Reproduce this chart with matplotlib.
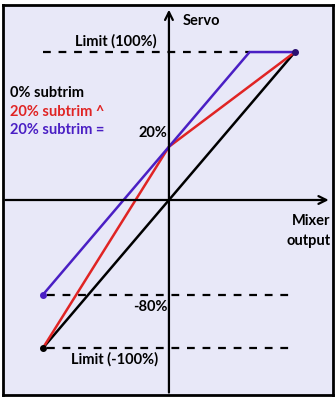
import matplotlib.pyplot as plt
import matplotlib

plt.rcParams['font.family'] = ['Lato', 'DejaVu Sans']

# schematic units: limit = 100, the "20%" trim sits at 36 on the drawn scale
x_black = [-100, 100]
y_black = [-100, 100]
x_red = [-100, 0, 100]
y_red = [-100, 36, 100]
x_blue = [-100, 0, 64, 100]
y_blue = [-64, 36, 100, 100]

limit_hi = 100
limit_lo = -100
low_blue = -64
trim_level = 36

legend_labels = ["0% subtrim", "20% subtrim ^", "20% subtrim ="]
legend_colors = ["black", "#e02424", "#4a1fc4"]

fig = plt.figure(figsize=(3.36, 3.99), dpi=100)
ax = fig.add_axes([3 / 336, 4 / 399, 330 / 336, 390 / 399])
ax.set_facecolor("#e8e8f8")
ax.set_xlim(-131.7, 130.2)
ax.set_ylim(-131.8, 131.8)
ax.set_xticks([])
ax.set_yticks([])
for s in ax.spines.values():
    s.set_linewidth(2)
    s.set_color("black")

# axes with open arrowheads
ax.annotate('', xy=(129, 0), xytext=(-132, 0),
            arrowprops=dict(arrowstyle='->', lw=1.6, color='black', mutation_scale=14))
ax.annotate('', xy=(0, 130.5), xytext=(0, -132),
            arrowprops=dict(arrowstyle='->', lw=1.6, color='black', mutation_scale=14))

# dashed limit lines
ax.plot([-100, x_blue[2]], [limit_hi, limit_hi], color='black', lw=1.6, ls=(0, (3.5, 3.5)))
ax.plot([-97, 100], [low_blue, low_blue], color='black', lw=1.6, ls=(0, (3.5, 3.5)))
ax.plot([-97, 100], [limit_lo, limit_lo], color='black', lw=1.6, ls=(0, (3.5, 3.5)))

ax.plot(x_black, y_black, color=legend_colors[0], lw=1.8)
ax.plot(x_red, y_red, color=legend_colors[1], lw=1.8)
ax.plot(x_blue, y_blue, color=legend_colors[2], lw=1.8)

ax.plot([x_black[0]], [y_black[0]], 'o', color='black', ms=4)
ax.plot([x_blue[0]], [y_blue[0]], 'o', color=legend_colors[2], ms=4)
ax.plot([100], [100], 'o', color='#2a1070', ms=4)

fs = 10.5
ax.text(11, 121, "Servo", fontsize=fs, fontweight='bold', va='center', ha='left')
ax.text(-42, 107, "Limit (100%)", fontsize=fs, fontweight='bold', va='center', ha='center')
for i, (lab, c) in enumerate(zip(legend_labels, legend_colors)):
    ax.text(-126, 72 - i * 12.3, lab, fontsize=fs, fontweight='bold', color=c, va='center', ha='left')
ax.text(-1, 45, "20%", fontsize=fs, fontweight='bold', va='center', ha='right')
ax.text(128.5, -14, "Mixer", fontsize=fs, fontweight='bold', va='center', ha='right')
ax.text(128.5, -27.5, "output", fontsize=fs, fontweight='bold', va='center', ha='right')
ax.text(-1, -72.5, "-80%", fontsize=fs, fontweight='bold', va='center', ha='right')
ax.text(-43, -107.5, "Limit (-100%)", fontsize=fs, fontweight='bold', va='center', ha='center')

fig.savefig("out.png", dpi=100, facecolor='white')
